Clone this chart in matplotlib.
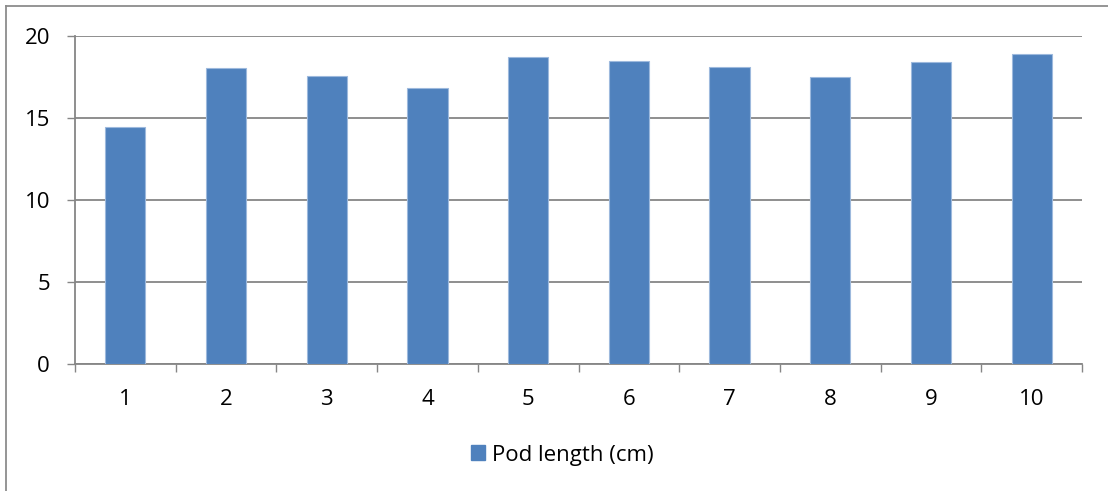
import matplotlib.pyplot as plt
from matplotlib.lines import Line2D
from matplotlib.patches import Patch
import numpy as np

plt.rcParams['font.family'] = ['Open Sans', 'DejaVu Sans']

plants = ['1', '2', '3', '4', '5', '6', '7', '8', '9', '10']
pod_length = [14.47, 18.07, 17.56, 16.83, 18.72, 18.48, 18.11, 17.48, 18.41, 18.88]

bar_col = '#4F81BD'
grid_col = '#868686'

W, H = 1108, 491
fig = plt.figure(figsize=(W / 100, H / 100), dpi=100)
ax = fig.add_axes([75 / W, (H - 364) / H, (1082 - 75) / W, (364 - 36) / H])

x = np.arange(len(plants))
ax.bar(x, pod_length, width=0.4, color=bar_col, edgecolor='#9DB9DD', linewidth=0.8, zorder=3)

ax.set_xlim(-0.5, len(plants) - 0.5)
ax.set_ylim(0, 20)
ax.set_yticks([0, 5, 10, 15, 20])
ax.set_xticks(x)
ax.set_xticklabels(plants)
ax.set_xticks(np.arange(len(plants) + 1) - 0.5, minor=True)

ax.grid(axis='y', color=grid_col, linewidth=1.3, zorder=0)
ax.tick_params(axis='y', length=6, width=1, color=grid_col, pad=12, labelsize=16)
ax.tick_params(axis='x', which='major', length=0, pad=18, labelsize=16)
ax.tick_params(axis='x', which='minor', length=5.5, width=1, color=grid_col)

for side in ['top', 'right']:
    ax.spines[side].set_visible(False)
for side in ['left', 'bottom']:
    ax.spines[side].set_color(grid_col)
    ax.spines[side].set_linewidth(1.3)

# chart border (top and left edges)
fig.add_artist(Line2D([6 / W, 1], [1 - 6 / H, 1 - 6 / H], transform=fig.transFigure, color='#8C8C8C', lw=1.3))
fig.add_artist(Line2D([6 / W, 6 / W], [0, 1 - 6 / H], transform=fig.transFigure, color='#8C8C8C', lw=1.3))

fig.legend(handles=[Patch(color=bar_col, label='Pod length (cm)')],
           loc='center', bbox_to_anchor=(562 / W, (H - 455) / H),
           frameon=False, fontsize=16, handlelength=0.65, handleheight=0.65,
           handletextpad=0.3)

fig.savefig('out.png', dpi=100)
